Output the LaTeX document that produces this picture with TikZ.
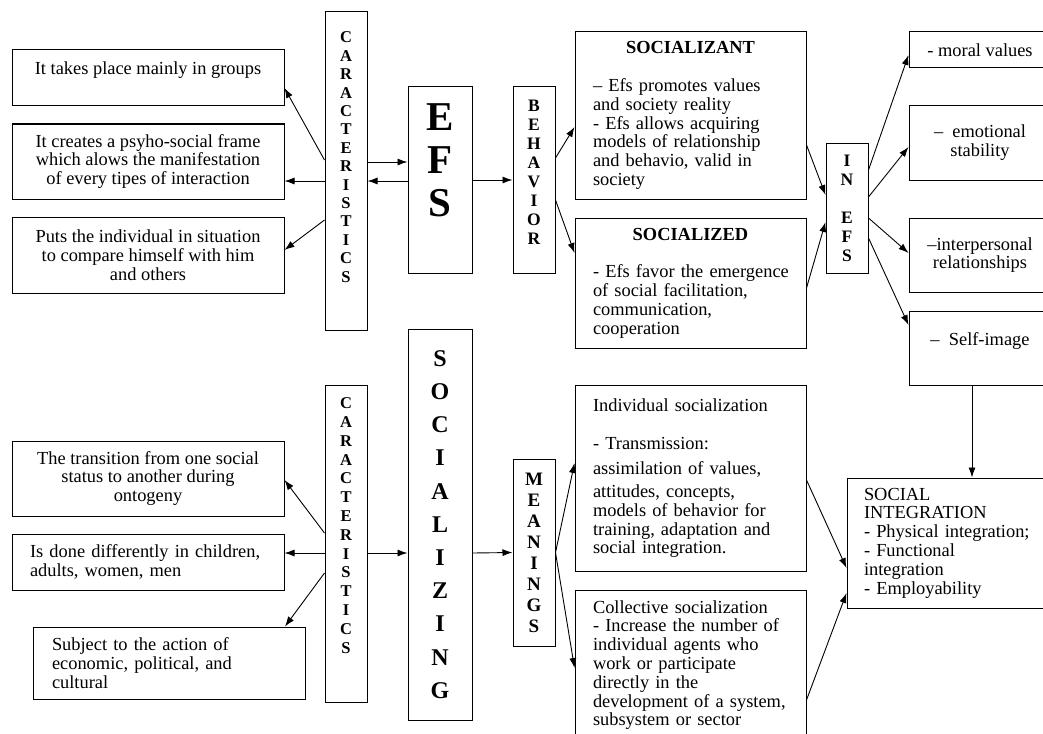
\documentclass[tikz,border=0pt]{standalone}
\usepackage{fontspec}
\setmainfont{Liberation Serif}
\usetikzlibrary{arrows.meta}
\tikzstyle{TextBox}=[draw=black, line width=1pt, inner sep=0pt, align=center, font=\fontsize{18.4}{18.8}\selectfont]
\tikzstyle{NoteBox}=[TextBox, align=left]
\tikzstyle{LetterBox}=[draw=black, line width=1pt, inner sep=0pt, align=center, font=\bfseries\fontsize{16.5}{18.4}\selectfont]
\tikzstyle{Conn}=[-{Latex[length=10pt,width=7pt]}, line width=0.9pt]
\tikzset{wh/.style 2 args={minimum width=#1pt, minimum height=#2pt}}

\begin{document}
\begin{tikzpicture}[x=1pt, y=-1pt]
      \clip (0,0) rectangle (1043,733);
      \fill[white] (0,0) rectangle (1043,733);
      % group - characteristics
      \node[TextBox, wh={272}{56}] (g1) at (148,78) {It takes place mainly in groups\\~};
      \node[TextBox, wh={272}{75}] (g2) at (148,161.5) {It creates a psyho-social frame\\which alows the manifestation\\of every tipes of interaction};
      \node[TextBox, wh={272}{76}] (g3) at (148,255) {Puts the individual in situation\\to compare himself with him\\and others};
      \node[LetterBox, wh={42}{318}, text depth=28pt] (car1) at (346,171) {C\\A\\R\\A\\C\\T\\E\\R\\I\\S\\T\\I\\C\\S};
      \node[LetterBox, wh={64}{186}, text depth=40pt, font=\bfseries\fontsize{41}{43}\selectfont] (efs) at (440,180) {E\\F\\S};
      \node[LetterBox, wh={42}{186}, text depth=15pt, font=\bfseries\fontsize{17.5}{19}\selectfont] (beh) at (534,180) {B\\E\\H\\A\\V\\I\\O\\R};
      \node[NoteBox, wh={231}{167}, text width=195pt] (sant) at (690.5,115.5) {\makebox[195pt]{\bfseries SOCIALIZANT}\\[19pt]– Efs promotes values\\and society reality\\- Efs allows acquiring\\models of relationship\\and behavio, valid in\\society};
      \node[NoteBox, wh={231}{130}, text width=195pt] (sed) at (690.5,283) {\makebox[195pt]{\bfseries SOCIALIZED}\\[19pt]\mbox{- Efs favor the emergence}\\of social facilitation,\\communication,\\cooperation};
      \node[LetterBox, wh={42}{130}, font=\bfseries\fontsize{17.5}{19}\selectfont] (inefs) at (847,208) {I\\N\\~\\E\\F\\S};
      \node[TextBox, wh={142}{36}] (r1) at (980,50) {- moral values};
      \node[TextBox, wh={142}{74}] (r2) at (980,143) {–~~emotional\\stability};
      \node[TextBox, wh={142}{74}] (r3) at (980,255) {–interpersonal\\relationships};
      \node[TextBox, wh={142}{74}] (r4) at (980,348) {–~~Self-image\\~};
      % socializing
      \node[TextBox, wh={272}{75}] (b1) at (148,478.5) {The transition from one social\\status to another during\\ontogeny};
      \node[NoteBox, wh={272}{56}, text width=236pt] (b2) at (148,562) {Is done differently in children,\\adults, women, men};
      \node[NoteBox, wh={272}{72}, text width=234pt] (b3) at (169,663) {Subject to the action of\\economic, political, and\\cultural};
      \node[LetterBox, wh={42}{317}, text depth=36pt, font=\bfseries\fontsize{16.5}{18.8}\selectfont] (car2) at (346,543.5) {C\\A\\R\\A\\C\\T\\E\\R\\I\\S\\T\\I\\C\\S};
      \node[LetterBox, wh={64}{391}, font=\bfseries\fontsize{24}{33.2}\selectfont] (soc) at (440,524.5) {S\\O\\C\\I\\A\\L\\I\\Z\\I\\N\\G};
      \node[LetterBox, wh={42}{187}, font=\bfseries\fontsize{19}{21}\selectfont] (mean) at (534,552.5) {M\\E\\A\\N\\I\\N\\G\\S};
      \node[NoteBox, wh={231}{186}, text width=195pt] (indiv) at (690.5,478) {Individual socialization\\[20pt]- Transmission:\\[6pt]assimilation of values,\\[4pt]attitudes, concepts,\\models of behavior for\\training, adaptation and\\social integration.};
      \node[NoteBox, wh={231}{150}, text width=195pt] (coll) at (690.5,665) {Collective socialization\\- Increase the number of\\individual agents who\\work or participate\\directly in the\\\mbox{development of a system,}\\subsystem or sector};
      \node[NoteBox, wh={204}{130}, text width=170pt] (integ) at (949,543) {SOCIAL\\INTEGRATION\\- Physical integration;\\- Functional\\integration\\- Employability};
      \draw[Conn] ([yshift=11pt]car1.west) -- ([yshift=-10pt]g1.east);
      \draw[Conn] ([yshift=-10pt]car1.west) -- ([yshift=-19.5pt]g2.east);
      \draw[Conn] ([yshift=-49pt]car1.west) -- ([yshift=5pt]g3.east);
      \draw[Conn] ([yshift=9pt]car1.east) -- ([yshift=18pt]efs.west);
      \draw[Conn] ([yshift=-1pt]efs.west) -- ([yshift=-10pt]car1.east);
      \draw[Conn] (efs) -- (beh);
      \draw[Conn] ([yshift=22pt]beh.east) -- ([yshift=-11.5pt]sant.west);
      \draw[Conn] ([yshift=-20pt]beh.east) -- ([yshift=30pt]sed.west);
      \draw[Conn] ([yshift=-29.5pt]sant.east) -- ([yshift=13pt]inefs.west);
      \draw[Conn] ([yshift=-5pt]sed.east) -- ([yshift=-14pt]inefs.west);
      \draw[Conn] ([yshift=38pt]inefs.east) -- ([yshift=-5pt]r1.west);
      \draw[Conn] ([yshift=11pt]inefs.east) -- ([yshift=-4pt]r2.west);
      \draw[Conn] ([yshift=-10pt]inefs.east) -- ([yshift=2pt]r3.west);
      \draw[Conn] ([yshift=-30pt]inefs.east) -- ([yshift=23pt]r4.west);
      \draw[Conn] ([xshift=-8pt]r4.south) -- ([xshift=23pt]integ.north);
      \draw[Conn] ([yshift=10.5pt]car2.west) -- ([yshift=-1.5pt]b1.east);
      \draw[Conn] ([yshift=-9.5pt]car2.west) -- ([yshift=9pt]b2.east);
      \draw[Conn] ([yshift=-29.5pt]car2.west) -- ([xshift=116pt]b3.north);
      \draw[Conn] ([yshift=-9.5pt]car2.east) -- ([yshift=-28.5pt]soc.west);
      \draw[Conn] ([yshift=-28.5pt]soc.east) -- (mean.west);
      \draw[Conn] (mean.east) -- ([yshift=15pt]indiv.west);
      \draw[Conn] (mean.east) -- ([yshift=-3pt]coll.west);
      \draw[Conn] ([yshift=-2pt]indiv.east) -- ([yshift=-25pt]integ.west);
      \draw[Conn] ([yshift=-35pt]coll.east) -- ([yshift=-50pt]integ.west);
    \end{tikzpicture}
\end{document}
